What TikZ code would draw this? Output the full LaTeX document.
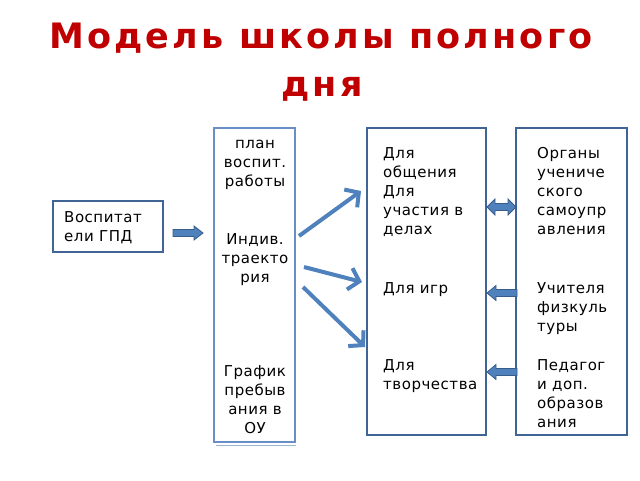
\documentclass[tikz,border=0pt]{standalone}
\usepackage{fontspec}
\setmainfont{DejaVu Sans}[LetterSpace=3.5]
\newfontfamily\titlefont{DejaVu Sans}[LetterSpace=9]
\usetikzlibrary{arrows.meta}
\definecolor{titlered}{RGB}{192,0,0}
\definecolor{boxblue}{RGB}{64,100,150}
\definecolor{lightblue}{RGB}{105,142,200}
\definecolor{shadowblue}{RGB}{160,180,210}
\definecolor{arrowblue}{RGB}{79,129,189}
\definecolor{arrowedge}{RGB}{56,93,138}
\begin{document}
\begin{tikzpicture}[x=1pt,y=-1pt,
  txt/.style={font=\fontsize{15}{19}\selectfont, inner sep=0pt, align=left, anchor=north west},
  ctxt/.style={font=\fontsize{15}{19}\selectfont, inner sep=0pt, align=center, anchor=north},
  frame/.style={draw=boxblue, line width=1.8pt},
  lightframe/.style={draw=lightblue, line width=2.4pt},
  blockarrow/.style={fill=arrowblue, draw=arrowedge, line width=0.8pt},
  linkarrow/.style={draw=arrowblue, line width=4pt, -{Straight Barb[length=10pt,width=22pt,line width=4pt]}},
  titletext/.style={font=\titlefont\fontsize{35}{51}\selectfont\bfseries, text=titlered, inner sep=0pt}
]
\useasboundingbox (0,0) rectangle (640,480);

% title
\node[titletext, anchor=base] (t1) at (321,48) {Модель школы полного};
\node[titletext, anchor=base] (t2) at (322,96) {дня};

% boxes
\draw[frame] (53,201) rectangle (163,252);
\node (vosp) at (108,226.5) {};
\draw[shadowblue, line width=1.5pt] (216,445.5) -- (296,445.5);
\draw[lightframe] (214,128) rectangle (295,442);
\node (b1) at (254.5,285) {};
\draw[frame] (367,128) rectangle (486,435);
\draw[frame] (516,128) rectangle (627,435);

% texts
\node[txt] (vt) at (64,208.7) {\strut Воспитат\\ели ГПД};

\node[ctxt] (a1) at (255,134.7) {\strut план\\воспит.\\работы};
\node[ctxt] (a2) at (255,230.7) {\strut Индив.\\траекто\\рия};
\node[ctxt] (a3) at (255,363) {\strut График\\пребыв\\ания в\\ОУ};

\node[txt] (m1) at (383,144.7) {\strut Для\\общения\\Для\\участия в\\делах};
\node[txt] (m2) at (383,279.7) {\strut Для игр};
\node[txt] (m3) at (383,356.7) {\strut Для\\творчества};

\node[txt] (r1) at (537,144.7) {\strut Органы\\учениче\\ского\\самоупр\\авления};
\node[txt] (r2) at (537,279.7) {\strut Учителя\\физкуль\\туры};
\node[txt] (r3) at (537,356.7) {\strut Педагог\\и доп.\\образов\\ания};

% block arrows
\path[blockarrow] (173,229.5) -- (194,229.5) -- (194,226) -- (203,233) -- (194,240) -- (194,236.5) -- (173,236.5) -- cycle;
\path[blockarrow] (487,207) -- (495,199) -- (495,203.5) -- (508,203.5) -- (508,199) -- (516,207) -- (508,215) -- (508,210.5) -- (495,210.5) -- (495,215) -- cycle;
\path[blockarrow] (487,293) -- (496,285.5) -- (496,289.5) -- (517,289.5) -- (517,296.5) -- (496,296.5) -- (496,300.5) -- cycle;
\path[blockarrow] (487,372) -- (496,364.5) -- (496,368.5) -- (517,368.5) -- (517,375.5) -- (496,375.5) -- (496,379.5) -- cycle;

% link arrows
\coordinate (s1) at (299,236);
\coordinate (e1) at (361,191);
\coordinate (s2) at (304,267);
\coordinate (e2) at (362,282);
\coordinate (s3) at (303,287);
\coordinate (e3) at (365,347);
\draw[linkarrow] (s1) -- (e1);
\draw[linkarrow] (s2) -- (e2);
\draw[linkarrow] (s3) -- (e3);
\end{tikzpicture}
\end{document}
